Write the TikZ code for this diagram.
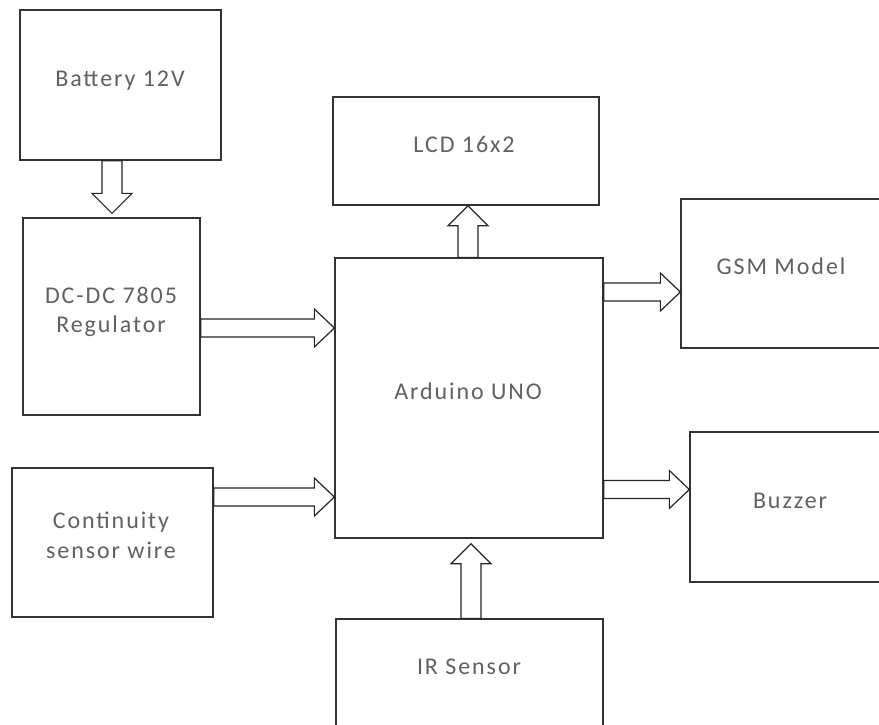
\documentclass[tikz,border=0pt]{standalone}
\usepackage{fontspec}
\setmainfont[LetterSpace=8]{Carlito}
\usetikzlibrary{calc}

\tikzset{
  blk/.style={draw=black!80, line width=1.3pt, rectangle, inner sep=0pt},
  lbl/.style={text=black!62, font=\fontsize{24}{29}\selectfont, anchor=base, inner sep=0pt},
  barrow/.style={draw=black!85, line width=1.2pt, fill=white, line join=miter},
}
% hollow block arrow from #2 to #3, half shaft width #1
\newcommand\blockarrow[3][9pt]{%
  \draw[barrow] let \p1=(#2), \p2=(#3), \p3=($(#3)!20pt!(#2)$) in
    ($(\p1)!#1!90:(\p2)$) -- ($(\p3)!#1!-90:(\p1)$) -- ($(\p3)!#1+10pt!-90:(\p1)$) -- (\p2)
    -- ($(\p3)!#1+10pt!90:(\p1)$) -- ($(\p3)!#1!90:(\p1)$) -- ($(\p1)!#1!-90:(\p2)$) -- cycle;}

\begin{document}
\begin{tikzpicture}[x=1pt,y=-1pt]
\useasboundingbox (0,0) rectangle (879,724);
\clip (0,0) rectangle (879,724);
\fill[white] (0,0) rectangle (879,724);
% Blocs
\node[blk, minimum width=201pt, minimum height=150pt] (bat) at (120.5,85) {};
\node[blk, minimum width=177pt, minimum height=197pt] (reg) at (111.5,316.5) {};
\node[blk, minimum width=201pt, minimum height=149pt] (cont) at (112.5,542.5) {};
\node[blk, minimum width=266pt, minimum height=108pt] (lcd) at (466,151) {};
\node[blk, minimum width=268pt, minimum height=280pt] (ard) at (469,398) {};
\node[blk, minimum width=200pt, minimum height=149pt] (gsm) at (781,273.5) {};
\node[blk, minimum width=192pt, minimum height=150pt] (buz) at (786,507) {};
\node[blk, minimum width=267pt, minimum height=112pt] (ir) at (469.5,675) {};
% Textes
\node[lbl] (bat-t) at (120,86.5) {Battery 12V};
\node[lbl] (reg-t1) at (111,303) {DC-DC 7805};
\node[lbl] (reg-t2) at (111,332) {Regulator};
\node[lbl] (cont-t1) at (111,528) {Continuity};
\node[lbl] (cont-t2) at (111,558) {sensor wire};
\node[lbl] (lcd-t) at (464,152) {LCD 16x2};
\node[lbl] (ard-t) at (468,399) {Arduino UNO};
\node[lbl] (gsm-t) at (781,274) {GSM Model};
\node[lbl] (buz-t) at (790,508) {Buzzer};
\node[lbl] (ir-t) at (469,674) {IR Sensor};
% Fleches
\blockarrow[10pt]{bat.south -| 112,0}{$(reg.north -| 112,0)+(0,-4)$}
\blockarrow{reg.east |- 0,328}{ard.west |- 0,328}
\blockarrow[10pt]{ard.north -| 468,0}{lcd.south -| 468,0}
\blockarrow{ard.east |- 0,292}{gsm.west |- 0,292}
\blockarrow{ard.east |- 0,489.5}{buz.west |- 0,489.5}
\blockarrow[10pt]{ir.north -| 471,0}{$(ard.south -| 471,0)+(0,5)$}
\blockarrow{cont.east |- 0,497}{ard.west |- 0,497}
\end{tikzpicture}
\end{document}
